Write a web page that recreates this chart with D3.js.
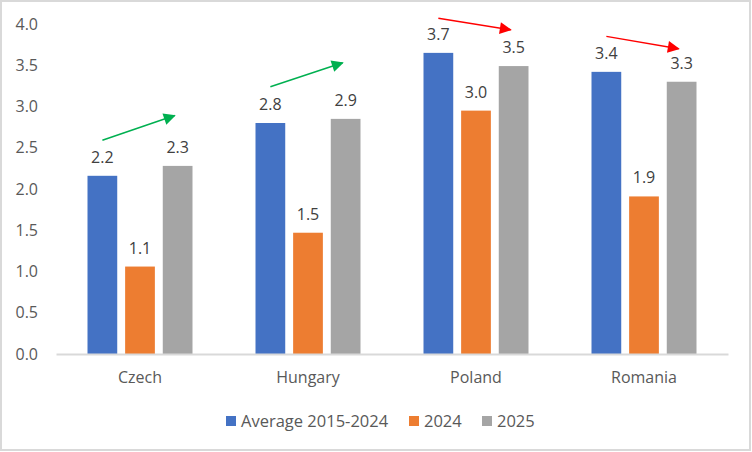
<!DOCTYPE html>
<html>
<head>
<meta charset="utf-8">
<script src="https://cdn.jsdelivr.net/npm/d3@7"></script>
<style>
  body { margin: 0; background: #fff; }
  svg { display: block; font-family: 'Open Sans', sans-serif; }
</style>
</head>
<body>
<svg id="svg"></svg>
<script>
const categories = ['Czech', 'Hungary', 'Poland', 'Romania']
const seriesNames = ['Average 2015-2024', '2024', '2025']
const avgValues = [2.16, 2.80, 3.65, 3.42]
const y2024Values = [1.06, 1.47, 2.95, 1.91]
const y2025Values = [2.28, 2.85, 3.49, 3.30]
const avgLabels = ['2.2', '2.8', '3.7', '3.4']
const y2024Labels = ['1.1', '1.5', '3.0', '1.9']
const y2025Labels = ['2.3', '2.9', '3.5', '3.3']
const yTicks = [0, 0.5, 1, 1.5, 2, 2.5, 3, 3.5, 4]
// trend arrows: category, start value, end value, up/down
const arrowCats = ['Czech', 'Hungary', 'Poland', 'Romania']
const arrowFrom = [2.59, 3.24, 4.07, 3.85]
const arrowTo = [2.89, 3.53, 3.93, 3.70]
const arrowUp = [true, true, false, false]

const colors = ['#4472C4', '#ED7D31', '#A5A5A5']

let w = 752
let h = 452
let fontSize = '16px'

let svg = d3.select('#svg').attr('width', w).attr('height', h)

svg.append('rect')
  .attr('x', 1).attr('y', 1).attr('width', w - 3).attr('height', h - 3)
  .attr('fill', '#fff').attr('stroke', '#d9d9d9').attr('stroke-width', 2)

let scaleX = d3.scaleBand()
  .domain(categories)
  .range([56, 728])

let scaleY = d3.scaleLinear()
  .domain([0, 4])
  .range([354, 24])

let inner = d3.scaleBand()
  .domain(seriesNames)
  .range([31.5, scaleX.bandwidth() - 31.5])
  .paddingInner(0.21)

const series = [
  { name: seriesNames[0], values: avgValues, labels: avgLabels },
  { name: seriesNames[1], values: y2024Values, labels: y2024Labels },
  { name: seriesNames[2], values: y2025Values, labels: y2025Labels }
]

// y axis labels (no line, no ticks)
let yAxis = svg.append('g')
  .attr('transform', 'translate(38,0)')
  .call(d3.axisLeft(scaleY).tickValues(yTicks).tickFormat(d3.format('.1f')).tickSize(0).tickPadding(0))
yAxis.select('.domain').remove()
yAxis.selectAll('text')
  .attr('fill', '#595959').style('font-size', fontSize).style('font-family', "'Open Sans', sans-serif")

// bars
series.forEach((s, si) => {
  let g = svg.append('g')
  g.selectAll('rect')
    .data(categories)
    .enter().append('rect')
    .attr('x', d => scaleX(d) + inner(s.name))
    .attr('y', (d, i) => scaleY(s.values[i]))
    .attr('width', inner.bandwidth())
    .attr('height', (d, i) => scaleY(0) - scaleY(s.values[i]))
    .attr('fill', colors[si])

  g.selectAll('text')
    .data(categories)
    .enter().append('text')
    .attr('x', d => scaleX(d) + inner(s.name) + inner.bandwidth() / 2)
    .attr('y', (d, i) => scaleY(s.values[i]) - 13)
    .attr('text-anchor', 'middle')
    .attr('fill', '#404040')
    .style('font-size', fontSize)
    .text((d, i) => s.labels[i])
})

// x axis
let xAxis = svg.append('g')
  .attr('transform', 'translate(0,' + scaleY(0) + ')')
  .call(d3.axisBottom(scaleX).tickSize(0).tickPadding(18))
xAxis.select('.domain').attr('stroke', '#d9d9d9').attr('stroke-width', 2)
xAxis.selectAll('text')
  .attr('fill', '#595959').style('font-size', fontSize).style('font-family', "'Open Sans', sans-serif")

// arrows
let defs = svg.append('defs')
;[['up', '#00B050'], ['down', '#FF0000']].forEach(([id, c]) => {
  defs.append('marker')
    .attr('id', 'arr-' + id)
    .attr('viewBox', '0 0 10 10')
    .attr('refX', 9).attr('refY', 5)
    .attr('markerWidth', 14).attr('markerHeight', 12)
    .attr('markerUnits', 'userSpaceOnUse')
    .attr('orient', 'auto')
    .append('path').attr('d', 'M0,0 L10,5 L0,10 Z').attr('fill', c)
})

svg.append('g').selectAll('line')
  .data(arrowCats)
  .enter().append('line')
  .attr('x1', d => scaleX(d) + inner(seriesNames[0]) + inner.bandwidth() / 2)
  .attr('x2', d => scaleX(d) + inner(seriesNames[2]) + inner.bandwidth() / 2 - 3)
  .attr('y1', (d, i) => scaleY(arrowFrom[i]))
  .attr('y2', (d, i) => scaleY(arrowTo[i]))
  .attr('stroke', (d, i) => arrowUp[i] ? '#00B050' : '#FF0000')
  .attr('stroke-width', 1.5)
  .attr('marker-end', (d, i) => arrowUp[i] ? 'url(#arr-up)' : 'url(#arr-down)')

// legend
let legend = svg.append('g').attr('transform', 'translate(0,421)')
let legendX = [226, 409, 482]
series.forEach((s, si) => {
  legend.append('rect')
    .attr('x', legendX[si]).attr('y', -5).attr('width', 10).attr('height', 10)
    .attr('fill', colors[si])
  legend.append('text')
    .attr('x', legendX[si] + 15).attr('y', 0).attr('dy', '0.35em')
    .attr('fill', '#595959').style('font-size', '16.5px')
    .text(s.name)
})
</script>
</body>
</html>
